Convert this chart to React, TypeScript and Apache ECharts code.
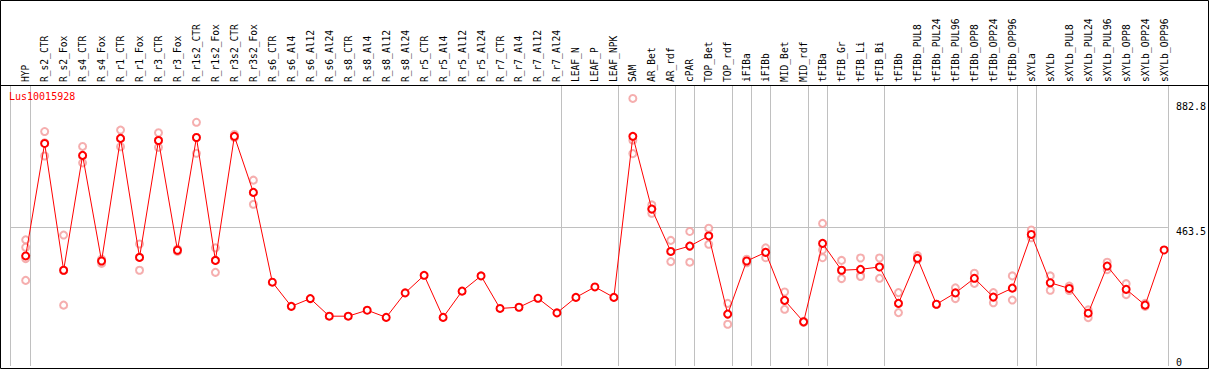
import React, { useEffect, useRef } from "react";
import * as echarts from "echarts";

const title = "Lus10015928";

const categories = [
  "HYP", "R_s2_CTR", "R_s2_Fox", "R_s4_CTR", "R_s4_Fox", "R_r1_CTR", "R_r1_Fox",
  "R_r3_CTR", "R_r3_Fox", "R_r1s2_CTR", "R_r1s2_Fox", "R_r3s2_CTR", "R_r3s2_Fox",
  "R_s6_CTR", "R_s6_Al4", "R_s6_Al12", "R_s6_Al24", "R_s8_CTR", "R_s8_Al4",
  "R_s8_Al12", "R_s8_Al24", "R_r5_CTR", "R_r5_Al4", "R_r5_Al12", "R_r5_Al24",
  "R_r7_CTR", "R_r7_Al4", "R_r7_Al12", "R_r7_Al24", "LEAF_N", "LEAF_P", "LEAF_NPK",
  "SAM", "AR_Bet", "AR_rdf", "cPAR", "TOP_Bet", "TOP_rdf", "iFIBa", "iFIBb",
  "MID_Bet", "MID_rdf", "tFIBa", "tFIB_Gr", "tFIB_Li", "tFIB_Bi", "tFIBb",
  "tFIBb_PUL8", "tFIBb_PUL24", "tFIBb_PUL96", "tFIBb_OPP8", "tFIBb_OPP24",
  "tFIBb_OPP96", "sXYLa", "sXYLb", "sXYLb_PUL8", "sXYLb_PUL24", "sXYLb_PUL96",
  "sXYLb_OPP8", "sXYLb_OPP24", "sXYLb_OPP96",
];

const means = [
  369, 746, 321, 706, 352, 763, 364, 756, 388, 766, 354, 770, 582,
  281, 200, 226, 167, 167, 187, 163, 245, 304, 163, 251, 302,
  193, 197, 227, 178, 230, 265, 230,
  770, 526, 384, 402, 436, 174, 352, 381, 220, 148, 411, 321, 324, 332, 210,
  361, 207, 245, 294, 231, 261, 441, 279, 260, 177, 335, 257, 204, 389,
];

const replicates: number[][] = [
  [423, 398, 360, 287], [786, 748, 704], [439, 320, 204], [736, 704, 681],
  [358, 344, 352], [791, 763, 735], [409, 364, 321], [782, 756, 733],
  [392, 384], [817, 766, 713], [396, 354, 314], [776, 766], [623, 582, 542],
  [], [], [], [], [], [], [], [], [], [], [], [], [], [], [], [], [], [], [],
  [897, 757, 712], [540, 526, 512], [421, 384, 350], [451, 402, 348],
  [462, 436, 408], [210, 174, 140], [358, 346], [396, 381, 363],
  [248, 220, 190], [150, 146], [478, 389, 363], [354, 321, 293],
  [362, 304, 300], [362, 332, 294], [246, 210, 179], [370, 357], [207],
  [262, 226], [311, 277], [246, 212], [302, 221], [456, 430], [302, 254],
  [268, 253], [188, 162], [348, 323], [276, 239], [210, 200], [],
];

// group separators: after these category indices
const groupEnds = [0, 28, 31, 34, 35, 37, 38, 39, 41, 42, 45, 52, 53];

const yTickLabels = [0, 463.5, 882.8];
const yGridValues = [463.5];

const X_MIN = -0.8;
const X_MAX = 60.2;

export default function App() {
  const ref = useRef<HTMLDivElement>(null);

  useEffect(() => {
    if (!ref.current) return;
    const chart = echarts.init(ref.current, undefined, { renderer: "svg" });
    const font = "'DejaVu Sans Mono', 'Liberation Mono', monospace";
    const sepValues = [X_MIN, ...groupEnds.map((k) => k + 0.237), X_MAX];
    const repData: number[][] = [];
    replicates.forEach((arr, i) => arr.forEach((v) => repData.push([i, v])));

    chart.setOption({
      animation: false,
      backgroundColor: "#ffffff",
      title: {
        text: title,
        left: 9,
        top: 91,
        padding: 0,
        textStyle: { color: "#ff0000", fontSize: 10, fontWeight: "normal", fontFamily: font },
      },
      grid: { left: 10.5, top: 85, width: 1159.5, height: 281 },
      xAxis: {
        type: "value",
        position: "top",
        min: X_MIN,
        max: X_MAX,
        axisLine: { show: false },
        axisTick: { show: false, customValues: sepValues },
        splitLine: { show: true, lineStyle: { color: "#c0c0c0", width: 1 } },
        axisLabel: {
          customValues: categories.map((_, i) => i),
          formatter: (v: number) => categories[Math.round(v)] ?? "",
          rotate: 90,
          margin: 3,
          fontSize: 9.6,
          fontFamily: font,
          color: "#000000",
        },
      },
      yAxis: {
        type: "value",
        position: "right",
        min: 0,
        max: 942,
        axisLine: { show: false },
        axisTick: { show: false, customValues: yGridValues },
        splitLine: { show: true, lineStyle: { color: "#c0c0c0", width: 1 } },
        axisLabel: {
          customValues: yTickLabels,
          margin: 8,
          fontSize: 10,
          fontFamily: font,
          color: "#000000",
          formatter: (v: number) => (v === 0 ? "{lo|0}" : `{hi|${v}}`),
          rich: {
            lo: { padding: [0, 0, 8, 0], fontSize: 10, fontFamily: font, color: "#000000" },
            hi: { padding: [8, 0, 0, 0], fontSize: 10, fontFamily: font, color: "#000000" },
          },
        },
      },
      graphic: [
        {
          type: "rect",
          shape: { x: 0.5, y: 0.5, width: 1208, height: 368 },
          style: { fill: "none", stroke: "#000000", lineWidth: 1 },
          z: 100,
          silent: true,
        },
        {
          type: "line",
          shape: { x1: 0, y1: 85.5, x2: 1209, y2: 85.5 },
          style: { stroke: "#000000", lineWidth: 1 },
          z: 100,
          silent: true,
        },
      ],
      series: [
        {
          type: "scatter",
          data: repData,
          symbol: "emptyCircle",
          symbolSize: 7,
          itemStyle: { color: "#f29a9a", borderColor: "#f29a9a", borderWidth: 1.1 },
          z: 2,
        },
        {
          type: "line",
          data: means.map((v, i) => [i, v]),
          symbol: "emptyCircle",
          symbolSize: 7,
          showAllSymbol: true,
          lineStyle: { color: "#ff0000", width: 1 },
          itemStyle: { color: "#ff0000", borderColor: "#ff0000", borderWidth: 1.4 },
          z: 3,
        },
      ],
    });
    return () => chart.dispose();
  }, []);

  return (
    <div
      ref={ref}
      style={{ position: "fixed", left: 0, top: 0, width: 1209, height: 370, background: "#fff" }}
    />
  );
}
